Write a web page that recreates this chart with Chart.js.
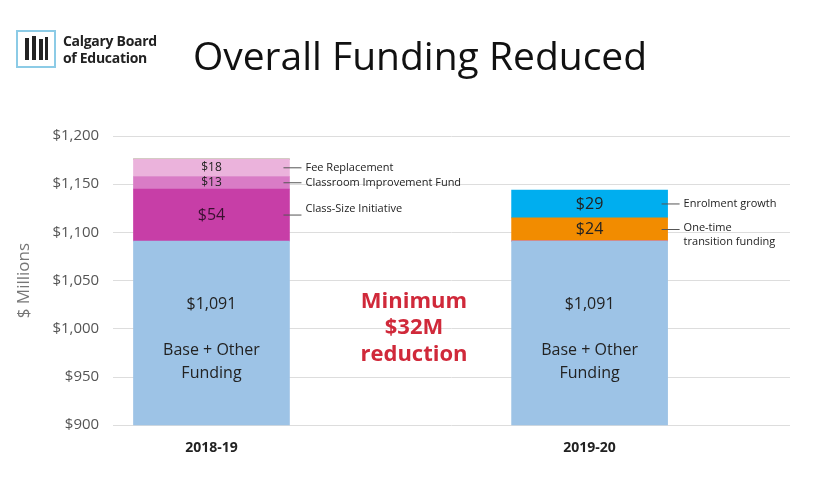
<html lang="en">
<head>
<meta charset="UTF-8">
<script src="https://cdn.jsdelivr.net/npm/chart.js"></script>
<style>
  body { margin: 0; background: #fff; font-family: "Open Sans", sans-serif; }
  #wrap { position: relative; width: 813px; height: 502px; }
  #logo { position: absolute; left: 16px; top: 30px; width: 40px; height: 38px; border: 2px solid #8ccbe6; box-sizing: border-box; }
  #logoText { position: absolute; left: 63px; top: 32px; font-size: 14px; font-weight: bold; line-height: 17px; color: #222; letter-spacing: -0.3px; }
  #title { position: absolute; left: 0; width: 840px; top: 28px; text-align: center; font-size: 39px; color: #111; }
</style>
</head>
<body>
<div id="wrap">
  <canvas id="c" width="813" height="502"></canvas>
  <div id="logo"><svg width="36" height="34"><g fill="#222"><rect x="7" y="6" width="4" height="22"/><rect x="14" y="4" width="4" height="24"/><rect x="21" y="7" width="4" height="21"/><rect x="27" y="5" width="3" height="23"/></g></svg></div>
  <div id="logoText">Calgary Board<br>of Education</div>
  <div id="title">Overall Funding Reduced</div>
</div>
<script>
const years = ["2018-19", "2019-20"];
const segNames = ["Base + Other Funding", "Class-Size Initiative", "Classroom Improvement Fund", "Fee Replacement", "One-time transition funding", "Enrolment growth"];
const seg2018 = [1091, 54, 13, 18, 0, 0];
const seg2019 = [1091, 0, 0, 0, 24, 29];
const segColors = ["#9dc3e6", "#c73ea7", "#d97cc6", "#ebb3dc", "#f28c00", "#00aeef"];
const yTicks = [900, 950, 1000, 1050, 1100, 1150, 1200];

const datasets = segNames.map((n, i) => ({
  label: n,
  data: [{ x: 0, y: seg2018[i] }, { x: 1, y: seg2019[i] }],
  backgroundColor: segColors[i],
  barThickness: 156,
  borderWidth: 0
}));

const labelsPlugin = {
  id: "labels",
  afterDatasetsDraw(chart) {
    const ctx = chart.ctx;
    const xs = chart.scales.x, ysc = chart.scales.y;
    ctx.save();
    ctx.textAlign = "center";
    ctx.textBaseline = "middle";
    [seg2018, seg2019].forEach((segs, j) => {
      const cx = xs.getPixelForValue(j);
      let cum = 0;
      segs.forEach((v, di) => {
        if (!v) return;
        const mid = ysc.getPixelForValue(cum + v / 2);
        cum += v;
        ctx.fillStyle = "#222";
        if (di === 0) {
          ctx.font = "16px 'Open Sans'";
          ctx.fillText("$" + v.toLocaleString("en-US"), cx, 304);
          ctx.fillText("Base + Other", cx, 350);
          ctx.fillText("Funding", cx, 373);
          return;
        }
        const small = v < 20;
        ctx.fillStyle = di === 1 ? "#3a1030" : "#222";
        ctx.font = (small ? "12px" : "16px") + " 'Open Sans'";
        ctx.fillText("$" + v, cx, mid);
        const x1 = cx + 78;
        ctx.strokeStyle = "#555";
        ctx.lineWidth = 1;
        ctx.beginPath();
        ctx.moveTo(x1 - 6, mid);
        ctx.lineTo(x1 + 12, mid);
        ctx.stroke();
        ctx.textAlign = "left";
        ctx.font = "11px 'Open Sans'";
        ctx.fillStyle = "#222";
        if (di === 4) {
          ctx.fillText("One-time", x1 + 16, mid - 2);
          ctx.fillText("transition funding", x1 + 16, mid + 12);
        } else {
          ctx.fillText(segNames[di], x1 + 16, di === 1 ? mid - 6 : mid);
        }
        ctx.textAlign = "center";
      });
    });
    ctx.fillStyle = "#d0293a";
    ctx.font = "bold 22px 'Open Sans'";
    const cx = 414;
    ctx.fillText("Minimum", cx, 302);
    ctx.fillText("$32M", cx, 328);
    ctx.fillText("reduction", cx, 355);
    ctx.restore();
  }
};

new Chart(document.getElementById("c"), {
  type: "bar",
  data: { datasets },
  options: {
    responsive: false,
    animation: false,
    layout: { padding: { top: 136, right: 23, left: 10, bottom: 40 } },
    plugins: { legend: { display: false }, tooltip: { enabled: false } },
    scales: {
      x: {
        type: "linear", stacked: true, min: -0.26, max: 1.53, offset: false,
        afterBuildTicks: ax => { ax.ticks = [{ value: 0 }, { value: 1 }]; },
        ticks: { callback: v => years[v], color: "#222", font: { size: 14, weight: "bold", family: "Open Sans" }, padding: 6 },
        grid: { display: false }, border: { display: false }
      },
      y: {
        stacked: true, min: 900, max: 1200,
        afterBuildTicks: ax => { ax.ticks = yTicks.map(v => ({ value: v })); },
        ticks: { callback: v => "$" + v.toLocaleString("en-US"), color: "#555", font: { size: 15, family: "Open Sans" }, padding: 14 },
        grid: { color: "#dddddd", drawTicks: false }, border: { display: false },
        title: { display: true, text: "$ Millions", color: "#777", font: { size: 17, family: "Open Sans" } }
      }
    }
  },
  plugins: [labelsPlugin]
});
</script>
</body>
</html>
